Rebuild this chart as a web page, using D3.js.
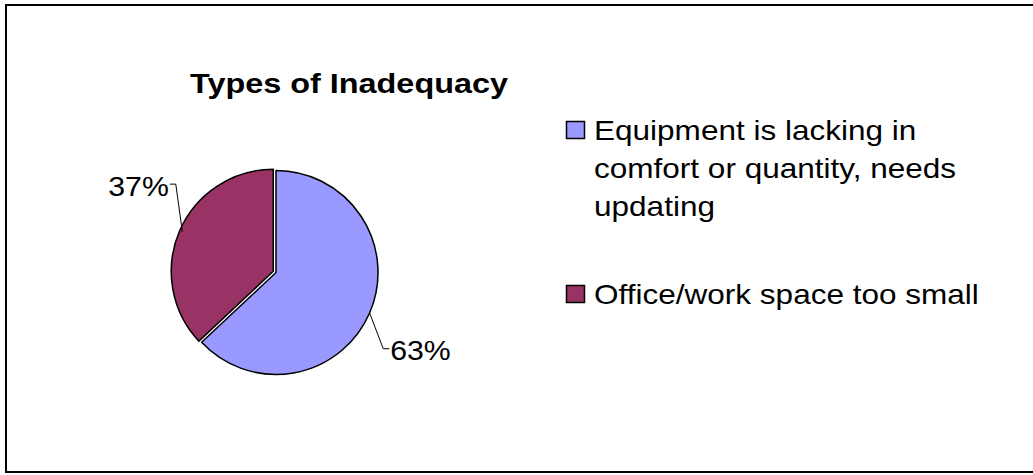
<!DOCTYPE html>
<html>
<head>
<meta charset="utf-8">
<script src="https://cdn.jsdelivr.net/npm/d3@7"></script>
<style>
  html, body { margin: 0; padding: 0; background: #fff; }
  svg { display: block; }
  text { font-family: "Liberation Sans", Arial, sans-serif; fill: #000; }
</style>
</head>
<body>
<svg id="chart" width="1033" height="475"></svg>
<script>
// Survey result: what kind of inadequacy was reported
const categories = [
  "Equipment is lacking in comfort or quantity, needs updating",
  "Office/work space too small"
];
const legendLines = [
  ["Equipment is lacking in", "comfort or quantity, needs", "updating"],
  ["Office/work space too small"]
];
const shares = [63, 37];
const colors = ["#9999FF", "#993366"];
const title = "Types of Inadequacy";

const W = 1033, H = 475;
const svg = d3.select("#chart");

// outer frame (right edge runs off the canvas)
svg.append("rect")
  .attr("x", 6).attr("y", 5)
  .attr("width", W + 20).attr("height", 467)
  .attr("fill", "none").attr("stroke", "#000").attr("stroke-width", 2);

// title
svg.append("text")
  .attr("transform", "translate(349,93) scale(1.2,1)")
  .attr("text-anchor", "middle")
  .style("font-weight", "bold")
  .style("font-size", "27px")
  .text(title);

// pie
const cx = 276, cy = 272.5, r = 102;
const pie = d3.pie().sort(null).value(d => d)(shares);
const arc = d3.arc().innerRadius(0).outerRadius(r);
const explode = [0, 3];

const g = svg.append("g").attr("transform", `translate(${cx},${cy})`);
pie.forEach((p, i) => {
  const mid = (p.startAngle + p.endAngle) / 2;
  const dx = Math.sin(mid) * explode[i], dy = -Math.cos(mid) * explode[i];
  g.append("path")
    .attr("d", arc(p))
    .attr("transform", `translate(${dx},${dy})`)
    .attr("fill", colors[i])
    .attr("stroke", "#000")
    .attr("stroke-width", 1.5)
    .attr("stroke-linejoin", "round");
});

// percentage labels with leader lines
const leaderTurn = [12, 18];   // degrees the elbow is swung past the slice middle
const leaderReach = [1.29, 1.31];
pie.forEach((p, i) => {
  const mid = (p.startAngle + p.endAngle) / 2;
  const a0 = [Math.sin(mid) * r, -Math.cos(mid) * r];
  const ea = mid + leaderTurn[i] * Math.PI / 180;
  const a1 = [Math.sin(ea) * r * leaderReach[i], -Math.cos(ea) * r * leaderReach[i]];
  const right = Math.sin(ea) > 0;
  const a2 = [a1[0] + (right ? 6 : -6), a1[1]];
  g.append("polyline")
    .attr("points", [a0, a1, a2].map(q => q.join(",")).join(" "))
    .attr("fill", "none").attr("stroke", "#000").attr("stroke-width", 1);
  g.append("text")
    .attr("transform", `translate(${a2[0] + (right ? 1 : -1)},${a2[1] + 11.5}) scale(1.08,1)`)
    .attr("text-anchor", right ? "start" : "end")
    .style("font-size", "28px")
    .text(d3.format(".0f")(p.data) + "%");
});

// legend
const legend = svg.append("g");
const itemTop = [121, 285];
const lineGap = 38;
legendLines.forEach((lines, i) => {
  legend.append("rect")
    .attr("x", 566.5).attr("y", itemTop[i] + 0.5)
    .attr("width", 18).attr("height", 17)
    .attr("fill", colors[i]).attr("stroke", "#000").attr("stroke-width", 1.5);
  lines.forEach((t, k) => {
    legend.append("text")
      .attr("transform", `translate(594,${itemTop[i] + 18.5 + k * lineGap}) scale(1.168,1)`)
      .style("font-size", "27px")
      .text(t);
  });
});
</script>
</body>
</html>
